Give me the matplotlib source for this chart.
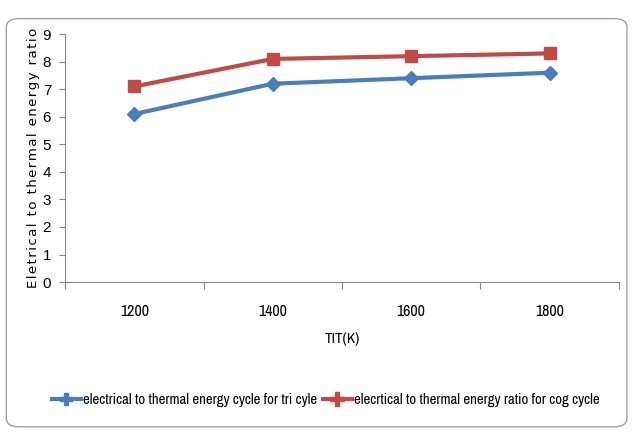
import matplotlib
matplotlib.use("Agg")
import matplotlib.pyplot as plt
from matplotlib import font_manager
from matplotlib.patches import FancyBboxPatch
from matplotlib.lines import Line2D

# ─── Dados ────────────────────────────────────────────────────────────────────
tit = ["1200", "1400", "1600", "1800"]
tri_ciclo = [6.1, 7.2, 7.4, 7.6]
cog_ciclo = [7.1, 8.1, 8.2, 8.3]
y_ticks = list(range(0, 10))

AZUL = "#4A7EBB"
VERMELHO = "#BE4B48"
CINZA = "#878787"

nomes = sorted({f.name for f in font_manager.fontManager.ttflist})
estreita = [n for n in nomes if "Narrow" in n or "Condensed" in n]
FONTE = (estreita[:1] or ["Liberation Sans"]) + ["DejaVu Sans"]

fig = plt.figure(figsize=(6.32, 4.32), dpi=100)
fig.patch.set_facecolor("white")

# moldura arredondada do gráfico
moldura = FancyBboxPatch((0.010, 0.012), 0.982, 0.945, boxstyle="round,pad=0,rounding_size=0.02",
                         transform=fig.transFigure, facecolor="white", edgecolor="#A0A0A0", lw=1.0,
                         zorder=-5)
fig.patches.append(moldura)

ax = fig.add_axes([0.103, 0.347, 0.876, 0.574])
ax.patch.set_alpha(0)
x = list(range(len(tit)))

ax.plot(x, tri_ciclo, color=AZUL, lw=3, marker="D", ms=7, mec=AZUL, mfc=AZUL)
ax.plot(x, cog_ciclo, color=VERMELHO, lw=3, marker="s", ms=8.5, mec=VERMELHO, mfc=VERMELHO)

ax.set_xlim(-0.5, len(tit) - 0.5)
ax.set_ylim(0, 9)
ax.set_yticks(y_ticks)
ax.set_yticklabels([str(v) for v in y_ticks], fontsize=11, family=["Liberation Sans", "DejaVu Sans"])

# eixo de categorias: marcas nas divisas, rótulos no centro
ax.set_xticks([i - 0.5 for i in range(len(tit) + 1)])
ax.set_xticklabels([""] * (len(tit) + 1))
ax.set_xticks(x, minor=True)
ax.set_xticklabels(tit, minor=True, fontsize=11.5, family=FONTE)
ax.tick_params(axis="x", which="minor", length=0, pad=16)
ax.tick_params(axis="x", which="major", length=5, color=CINZA, direction="out")
ax.tick_params(axis="y", length=4, color=CINZA, direction="out", pad=6)

for lado in ["top", "right"]:
    ax.spines[lado].set_visible(False)
for lado in ["left", "bottom"]:
    ax.spines[lado].set_color(CINZA)

ax.set_xlabel("TIT(K)", fontsize=11, family=FONTE, labelpad=9)
ax.set_ylabel("\u200a".join("Eletrical to thermal energy ratio"), fontsize=9.6,
              family=["DejaVu Sans"], labelpad=2)

handles = [
    Line2D([], [], color=AZUL, lw=3, marker="P", ms=8),
    Line2D([], [], color=VERMELHO, lw=3, marker="P", ms=10),
]
rotulos = ["electrical to thermal energy cycle for tri cyle",
           "elecrtical to thermal energy ratio for cog cycle"]
fig.legend(handles, rotulos, loc="center", bbox_to_anchor=(0.515, 0.074), ncol=2, frameon=False,
           prop={"family": FONTE, "size": 10.6}, handlelength=2.0, handletextpad=0.1, columnspacing=0.4)

fig.savefig("out.png", dpi=100, facecolor="white")
